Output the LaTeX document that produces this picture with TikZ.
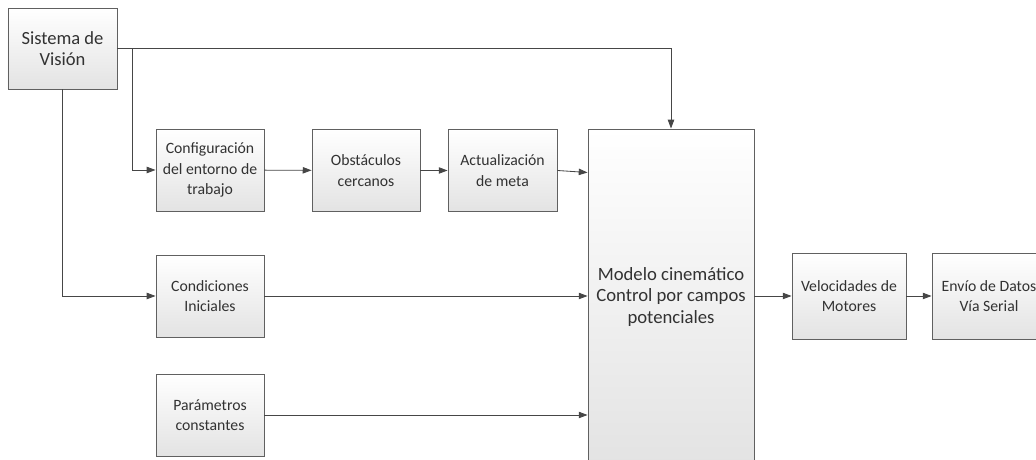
\documentclass[tikz,border=0pt]{standalone}
\usepackage{fontspec}
\setmainfont{Carlito}
\usepackage{xcolor}
\usepackage{tikz}
\usetikzlibrary{positioning,arrows.meta,shadows}
\definecolor{edgegray}{RGB}{96,96,96}
\definecolor{linegray}{RGB}{70,70,70}
\definecolor{txtgray}{RGB}{50,50,50}
\tikzset{
  blk/.style={draw=edgegray, line width=0.65pt, top color=white, bottom color=black!11, align=center, text=txtgray, minimum width=2.7cm, minimum height=2.05cm, inner sep=1pt, font=\fontsize{11.2}{14.4}\selectfont, drop shadow={shadow xshift=0.7pt, shadow yshift=-0.7pt, fill=black!30, opacity=0.5}},
  bigblk/.style={blk, minimum width=4.15cm, minimum height=8.4cm, font=\fontsize{13.3}{15.6}\selectfont},
  arr/.style={-{Triangle[length=2.2mm,width=1.6mm]}, line width=0.6pt, draw=linegray},
}
\begin{document}
\begin{tikzpicture}
    \clip (0,0) rectangle (25.9,11.5);
    \node[blk, minimum width=2.725cm, minimum height=2.025cm, font=\fontsize{13.2}{15.2}\selectfont] (sis) at (1.5625,10.2875) {Sistema de\\ Visión};
    \node[blk] (conf) at (5.25,7.25) {Configuración\\ del entorno de\\ trabajo};
    \node[blk] (obs) at (9.15,7.2375) {Obstáculos\\ cercanos};
    \node[blk, minimum width=2.725cm] (meta) at (12.5625,7.2375) {Actualización\\ de meta};
    \node[bigblk] (mod) at (16.775,4.075) {Modelo cinemático\\ Control por campos\\ potenciales};
    \node[blk] (cond) at (5.25,4.1) {Condiciones\\ Iniciales};
    \node[blk] (par) at (5.25,1.125) {Parámetros\\ constantes};
    \node[blk, minimum width=2.85cm, minimum height=2.15cm] (vel) at (21.225,4.1) {Velocidades de\\ Motores};
    \node[blk, minimum width=2.85cm, minimum height=2.15cm] (env) at (24.725,4.1) {Envío de Datos\\ Vía Serial};
    \coordinate (br) at (3.3,10.2875);
    \draw[arr] (sis.east) -| (mod.north);
    \draw[arr] (br) |- (conf.west);
    \draw[arr] (sis.south) |- (cond.west);
    \draw[arr] (conf) -- (obs);
    \draw[arr] (obs) -- (meta);
    \draw[arr] (meta.east) -- ([yshift=-0.05cm]meta.east -| mod.west);
    \draw[arr] (cond.east) -- (cond.east -| mod.west);
    \draw[arr] (par.east) -- (par.east -| mod.west);
    \draw[arr] (mod.east |- vel.west) -- (vel.west);
    \draw[arr] (vel) -- (env);
  \end{tikzpicture}
\end{document}
